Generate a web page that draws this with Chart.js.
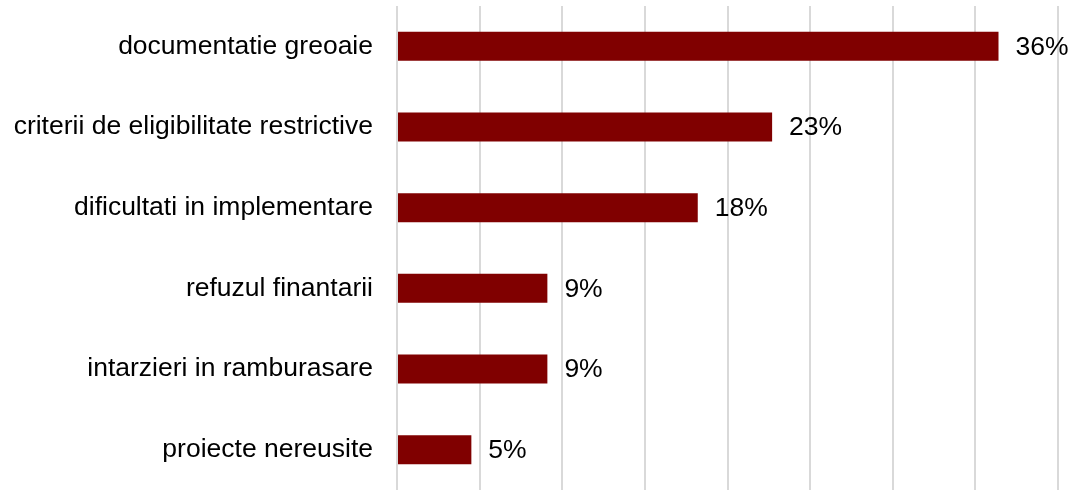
<!DOCTYPE html>
<html>
<head>
<meta charset="utf-8">
<script src="https://cdn.jsdelivr.net/npm/chart.js@4"></script>
<style>
  html, body { margin:0; padding:0; background:#fff; }
  #wrap { width:1084px; height:490px; position:relative; }
</style>
</head>
<body>
<div id="wrap"><canvas id="chart"></canvas></div>
<script>
// categorii si valori (procente)
const categorii = [
  "documentatie greoaie",
  "criterii de eligibilitate restrictive",
  "dificultati in implementare",
  "refuzul finantarii",
  "intarzieri in ramburasare",
  "proiecte nereusite"
];
const valori = [36.4, 22.7, 18.2, 9.1, 9.1, 4.5];
const etichete = ["36%", "23%", "18%", "9%", "9%", "5%"];

const FONT = "'Liberation Sans', Arial, sans-serif";

const valueLabels = {
  id: "valueLabels",
  afterDatasetsDraw(chart){
    const ctx = chart.ctx;
    const meta = chart.getDatasetMeta(0);
    ctx.save();
    ctx.font = "26.5px " + FONT;
    ctx.fillStyle = "#000";
    ctx.textAlign = "left";
    ctx.textBaseline = "middle";
    meta.data.forEach((bar, i) => {
      ctx.fillText(etichete[i], bar.x + 17, bar.y + 1);
    });
    ctx.restore();
  }
};

new Chart(document.getElementById("chart"), {
  type: "bar",
  data: {
    labels: categorii,
    datasets: [{
      data: valori,
      backgroundColor: "#800000",
      borderWidth: 0,
      barPercentage: 0.36,
      categoryPercentage: 1
    }]
  },
  options: {
    indexAxis: "y",
    responsive: true,
    maintainAspectRatio: false,
    devicePixelRatio: 1,
    animation: false,
    layout: { padding: { top: 6, right: 26, bottom: 0, left: 0 } },
    plugins: { legend: { display:false }, tooltip: { enabled:false } },
    scales: {
      x: {
        min: 0, max: 40,
        ticks: { display:false, stepSize:5 },
        grid: { color:"#d9d9d9", lineWidth:2, drawTicks:false },
        border: { display:false },
        afterFit: s => { s.height = 0; s.paddingLeft = 0; s.paddingRight = 0; }
      },
      y: {
        grid: { display:false, drawTicks:false },
        border: { display:false },
        ticks: { color:"#000", padding:24, font: { family: FONT, size: 26.5 } },
        afterFit: s => { s.width = 397; s.paddingTop = 0; s.paddingBottom = 0; }
      }
    }
  },
  plugins: [valueLabels]
});
</script>
</body>
</html>
